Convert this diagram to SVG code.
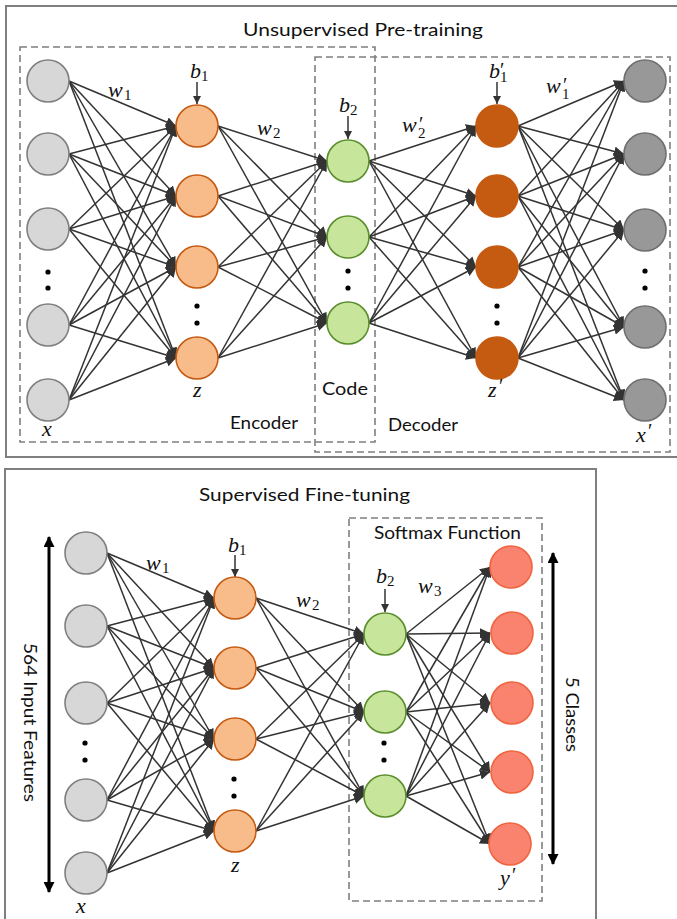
<svg xmlns="http://www.w3.org/2000/svg" width="677" height="919" viewBox="0 0 677 919">
<style>
.panel{fill:none;stroke:#7f7f7f;stroke-width:2}
.dash{fill:none;stroke:#7f7f7f;stroke-width:1.6;stroke-dasharray:7,4}
.c line{stroke:#333;stroke-width:1.5;marker-end:url(#ah)}
.bias{stroke:#333;stroke-width:1.5;marker-end:url(#ahs)}
.lab{font-family:Lato,"Liberation Sans",sans-serif;font-size:18px;fill:#111}
.m{font-family:"Liberation Serif","DejaVu Serif",serif;font-style:italic;font-size:22px;fill:#111}
.s{font-style:normal;font-size:15px}
.p{font-style:normal;font-size:20px}
.gray{fill:#d6d7d6;stroke:#7f7f7f;stroke-width:1.6}
.org{fill:#f8bc8b;stroke:#c55a11;stroke-width:1.6}
.grn{fill:#c7e59b;stroke:#5a8e2c;stroke-width:1.6}
.dorg{fill:#c55a11;stroke:#c55a11;stroke-width:1.6}
.dgray{fill:#989898;stroke:#6f6f6f;stroke-width:1.6}
.red{fill:#fa8370;stroke:#f0643f;stroke-width:1.6}
.dot{fill:#000}
.big{stroke:#000;stroke-width:3;marker-end:url(#ahb)}
</style>
<defs>
<marker id="ah" markerUnits="userSpaceOnUse" markerWidth="10" markerHeight="10" viewBox="0 0 10 10" refX="10" refY="5" orient="auto"><path d="M0,0 L10,5 L0,10 Z" fill="#333"/></marker>
<marker id="ahs" markerUnits="userSpaceOnUse" markerWidth="8" markerHeight="8" viewBox="0 0 8 8" refX="8" refY="4" orient="auto"><path d="M0,0 L8,4 L0,8 Z" fill="#333"/></marker>
<marker id="ahb" markerUnits="userSpaceOnUse" markerWidth="11" markerHeight="11" viewBox="0 0 11 11" refX="10" refY="5.5" orient="auto"><path d="M0,0 L11,5.5 L0,11 Z" fill="#000"/></marker>
</defs>
<rect width="677" height="919" fill="#fff"/>

<g id="panel-top">
<rect class="panel" x="6" y="6" width="680" height="451"/>
<text class="lab" x="243" y="36" textLength="240" lengthAdjust="spacingAndGlyphs" font-size="19.5">Unsupervised Pre-training</text>
<rect class="dash" x="20" y="47" width="355" height="395"/>
<rect class="dash" x="315" y="57" width="355" height="395"/>
<text class="lab" x="230" y="429" textLength="68" lengthAdjust="spacingAndGlyphs">Encoder</text>
<text class="lab" x="322" y="395" textLength="46" lengthAdjust="spacingAndGlyphs">Code</text>
<text class="lab" x="388" y="431" textLength="70" lengthAdjust="spacingAndGlyphs">Decoder</text>
</g>

<g id="panel-bottom">
<rect class="panel" x="5" y="469" width="591" height="460"/>
<text class="lab" x="199" y="501" textLength="211" lengthAdjust="spacingAndGlyphs" font-size="19.5">Supervised Fine-tuning</text>
<rect class="dash" x="349" y="518" width="193" height="383"/>
<text class="lab" x="374" y="539" textLength="147" lengthAdjust="spacingAndGlyphs" font-size="17">Softmax Function</text>
<text class="lab" transform="translate(24,722.5) rotate(90)" text-anchor="middle" textLength="159" lengthAdjust="spacingAndGlyphs">564 Input Features</text>
<text class="lab" transform="translate(566,714.5) rotate(90)" text-anchor="middle" textLength="75" lengthAdjust="spacingAndGlyphs">5 Classes</text>
<line class="big" x1="49" y1="715" x2="49" y2="537"/>
<line class="big" x1="49" y1="715" x2="49" y2="892"/>
<line class="big" x1="553" y1="710" x2="553" y2="553"/>
<line class="big" x1="553" y1="710" x2="553" y2="864"/>
</g>

<g id="connectors" class="c">
<line x1="69" y1="81" x2="176" y2="126"/><line x1="69" y1="81" x2="176" y2="196"/><line x1="69" y1="81" x2="176" y2="267"/><line x1="69" y1="81" x2="176" y2="358"/>
<line x1="69" y1="154" x2="176" y2="126"/><line x1="69" y1="154" x2="176" y2="196"/><line x1="69" y1="154" x2="176" y2="267"/><line x1="69" y1="154" x2="176" y2="358"/>
<line x1="69" y1="229" x2="176" y2="126"/><line x1="69" y1="229" x2="176" y2="196"/><line x1="69" y1="229" x2="176" y2="267"/><line x1="69" y1="229" x2="176" y2="358"/>
<line x1="69" y1="325" x2="176" y2="126"/><line x1="69" y1="325" x2="176" y2="196"/><line x1="69" y1="325" x2="176" y2="267"/><line x1="69" y1="325" x2="176" y2="358"/>
<line x1="69" y1="400" x2="176" y2="126"/><line x1="69" y1="400" x2="176" y2="196"/><line x1="69" y1="400" x2="176" y2="267"/><line x1="69" y1="400" x2="176" y2="358"/>
<line x1="218" y1="126" x2="327" y2="161"/><line x1="218" y1="126" x2="327" y2="237"/><line x1="218" y1="126" x2="327" y2="323"/>
<line x1="218" y1="196" x2="327" y2="161"/><line x1="218" y1="196" x2="327" y2="237"/><line x1="218" y1="196" x2="327" y2="323"/>
<line x1="218" y1="267" x2="327" y2="161"/><line x1="218" y1="267" x2="327" y2="237"/><line x1="218" y1="267" x2="327" y2="323"/>
<line x1="218" y1="358" x2="327" y2="161"/><line x1="218" y1="358" x2="327" y2="237"/><line x1="218" y1="358" x2="327" y2="323"/>
<line x1="369" y1="161" x2="476" y2="126"/><line x1="369" y1="161" x2="476" y2="196"/><line x1="369" y1="161" x2="476" y2="267"/><line x1="369" y1="161" x2="476" y2="358"/>
<line x1="369" y1="237" x2="476" y2="126"/><line x1="369" y1="237" x2="476" y2="196"/><line x1="369" y1="237" x2="476" y2="267"/><line x1="369" y1="237" x2="476" y2="358"/>
<line x1="369" y1="323" x2="476" y2="126"/><line x1="369" y1="323" x2="476" y2="196"/><line x1="369" y1="323" x2="476" y2="267"/><line x1="369" y1="323" x2="476" y2="358"/>
<line x1="518" y1="126" x2="624" y2="81"/><line x1="518" y1="126" x2="624" y2="154"/><line x1="518" y1="126" x2="624" y2="230"/><line x1="518" y1="126" x2="624" y2="327"/><line x1="518" y1="126" x2="624" y2="400"/>
<line x1="518" y1="196" x2="624" y2="81"/><line x1="518" y1="196" x2="624" y2="154"/><line x1="518" y1="196" x2="624" y2="230"/><line x1="518" y1="196" x2="624" y2="327"/><line x1="518" y1="196" x2="624" y2="400"/>
<line x1="518" y1="267" x2="624" y2="81"/><line x1="518" y1="267" x2="624" y2="154"/><line x1="518" y1="267" x2="624" y2="230"/><line x1="518" y1="267" x2="624" y2="327"/><line x1="518" y1="267" x2="624" y2="400"/>
<line x1="518" y1="358" x2="624" y2="81"/><line x1="518" y1="358" x2="624" y2="154"/><line x1="518" y1="358" x2="624" y2="230"/><line x1="518" y1="358" x2="624" y2="327"/><line x1="518" y1="358" x2="624" y2="400"/>
<line x1="107" y1="553" x2="214" y2="598"/><line x1="107" y1="553" x2="214" y2="668"/><line x1="107" y1="553" x2="214" y2="739"/><line x1="107" y1="553" x2="214" y2="831"/>
<line x1="107" y1="626" x2="214" y2="598"/><line x1="107" y1="626" x2="214" y2="668"/><line x1="107" y1="626" x2="214" y2="739"/><line x1="107" y1="626" x2="214" y2="831"/>
<line x1="107" y1="703" x2="214" y2="598"/><line x1="107" y1="703" x2="214" y2="668"/><line x1="107" y1="703" x2="214" y2="739"/><line x1="107" y1="703" x2="214" y2="831"/>
<line x1="107" y1="800" x2="214" y2="598"/><line x1="107" y1="800" x2="214" y2="668"/><line x1="107" y1="800" x2="214" y2="739"/><line x1="107" y1="800" x2="214" y2="831"/>
<line x1="107" y1="873" x2="214" y2="598"/><line x1="107" y1="873" x2="214" y2="668"/><line x1="107" y1="873" x2="214" y2="739"/><line x1="107" y1="873" x2="214" y2="831"/>
<line x1="256" y1="598" x2="364" y2="634"/><line x1="256" y1="598" x2="364" y2="712"/><line x1="256" y1="598" x2="364" y2="796"/>
<line x1="256" y1="668" x2="364" y2="634"/><line x1="256" y1="668" x2="364" y2="712"/><line x1="256" y1="668" x2="364" y2="796"/>
<line x1="256" y1="739" x2="364" y2="634"/><line x1="256" y1="739" x2="364" y2="712"/><line x1="256" y1="739" x2="364" y2="796"/>
<line x1="256" y1="831" x2="364" y2="634"/><line x1="256" y1="831" x2="364" y2="712"/><line x1="256" y1="831" x2="364" y2="796"/>
<line x1="406" y1="634" x2="490" y2="567"/><line x1="406" y1="634" x2="490" y2="633"/><line x1="406" y1="634" x2="490" y2="703"/><line x1="406" y1="634" x2="490" y2="772"/><line x1="406" y1="634" x2="490" y2="844"/>
<line x1="406" y1="712" x2="490" y2="567"/><line x1="406" y1="712" x2="490" y2="633"/><line x1="406" y1="712" x2="490" y2="703"/><line x1="406" y1="712" x2="490" y2="772"/><line x1="406" y1="712" x2="490" y2="844"/>
<line x1="406" y1="796" x2="490" y2="567"/><line x1="406" y1="796" x2="490" y2="633"/><line x1="406" y1="796" x2="490" y2="703"/><line x1="406" y1="796" x2="490" y2="772"/><line x1="406" y1="796" x2="490" y2="844"/>
</g>

<g id="bias-arrows">
<line class="bias" x1="197" y1="82" x2="197" y2="104"/>
<line class="bias" x1="348" y1="116" x2="348" y2="139"/>
<line class="bias" x1="497" y1="82" x2="497" y2="104"/>
<line class="bias" x1="235" y1="555" x2="235" y2="577"/>
<line class="bias" x1="385" y1="589" x2="385" y2="612"/>
</g>

<g id="top-input">
<circle class="gray" cx="48" cy="81" r="21"/><circle class="gray" cx="48" cy="154" r="21"/><circle class="gray" cx="48" cy="229" r="21"/><circle class="gray" cx="48" cy="325" r="21"/><circle class="gray" cx="48" cy="400" r="21"/>
<circle class="dot" cx="48" cy="272" r="2.6"/><circle class="dot" cx="48" cy="288" r="2.6"/>
<text class="m" x="42" y="436">x</text>
</g>
<g id="top-hidden">
<circle class="org" cx="197" cy="126" r="21"/><circle class="org" cx="197" cy="196" r="21"/><circle class="org" cx="197" cy="267" r="21"/><circle class="org" cx="197" cy="358" r="21"/>
<circle class="dot" cx="197" cy="306" r="2.6"/><circle class="dot" cx="197" cy="323" r="2.6"/>
<text class="m" x="193" y="397">z</text>
<text class="m" x="190" y="78">b<tspan class="s" x="201" y="81">1</tspan></text>
</g>
<g id="top-code">
<circle class="grn" cx="348" cy="161" r="21"/><circle class="grn" cx="348" cy="237" r="21"/><circle class="grn" cx="348" cy="323" r="21"/>
<circle class="dot" cx="348" cy="271" r="2.6"/><circle class="dot" cx="348" cy="288" r="2.6"/>
<text class="m" x="339" y="112">b<tspan class="s" x="350" y="115">2</tspan></text>
</g>
<g id="top-dec-hidden">
<circle class="dorg" cx="497" cy="126" r="21"/><circle class="dorg" cx="497" cy="196" r="21"/><circle class="dorg" cx="497" cy="267" r="21"/><circle class="dorg" cx="497" cy="358" r="21"/>
<circle class="dot" cx="497" cy="306" r="2.6"/><circle class="dot" cx="497" cy="323" r="2.6"/>
<text class="m" x="488" y="397">z<tspan class="p" x="499" y="393">′</tspan></text>
<text class="m" x="489" y="78">b<tspan class="p" x="500" y="77">′</tspan><tspan class="s" x="500" y="82">1</tspan></text>
</g>
<g id="top-output">
<circle class="dgray" cx="645" cy="81" r="21"/><circle class="dgray" cx="645" cy="154" r="21"/><circle class="dgray" cx="645" cy="230" r="21"/><circle class="dgray" cx="645" cy="327" r="21"/><circle class="dgray" cx="645" cy="400" r="21"/>
<circle class="dot" cx="645" cy="271" r="2.6"/><circle class="dot" cx="645" cy="288" r="2.6"/>
<text class="m" x="636" y="442">x<tspan class="p" x="648" y="438">′</tspan></text>
</g>
<g id="top-weights">
<text class="m" x="108" y="97">w<tspan class="s" x="124" y="100">1</tspan></text>
<text class="m" x="257" y="135">w<tspan class="s" x="273" y="138">2</tspan></text>
<text class="m" x="402" y="132">w<tspan class="p" x="419" y="131">′</tspan><tspan class="s" x="418" y="138">2</tspan></text>
<text class="m" x="546" y="93">w<tspan class="p" x="563" y="92">′</tspan><tspan class="s" x="562" y="99">1</tspan></text>
</g>

<g id="bottom-input">
<circle class="gray" cx="86" cy="553" r="21"/><circle class="gray" cx="86" cy="626" r="21"/><circle class="gray" cx="86" cy="703" r="21"/><circle class="gray" cx="86" cy="800" r="21"/><circle class="gray" cx="86" cy="873" r="21"/>
<circle class="dot" cx="85" cy="743" r="2.6"/><circle class="dot" cx="85" cy="760" r="2.6"/>
<text class="m" x="76" y="913">x</text>
</g>
<g id="bottom-hidden">
<circle class="org" cx="235" cy="598" r="21"/><circle class="org" cx="235" cy="668" r="21"/><circle class="org" cx="235" cy="739" r="21"/><circle class="org" cx="235" cy="831" r="21"/>
<circle class="dot" cx="234" cy="779" r="2.6"/><circle class="dot" cx="234" cy="796" r="2.6"/>
<text class="m" x="231" y="872">z</text>
<text class="m" x="228" y="552">b<tspan class="s" x="239" y="555">1</tspan></text>
</g>
<g id="bottom-code">
<circle class="grn" cx="385" cy="634" r="21"/><circle class="grn" cx="385" cy="712" r="21"/><circle class="grn" cx="385" cy="796" r="21"/>
<circle class="dot" cx="384" cy="743" r="2.6"/><circle class="dot" cx="384" cy="760" r="2.6"/>
<text class="m" x="376" y="583">b<tspan class="s" x="387" y="586">2</tspan></text>
</g>
<g id="bottom-output">
<circle class="red" cx="511" cy="567" r="21"/><circle class="red" cx="512" cy="633" r="21"/><circle class="red" cx="512" cy="703" r="21"/><circle class="red" cx="512" cy="772" r="21"/><circle class="red" cx="510" cy="844" r="21"/>
<text class="m" x="500" y="885">y<tspan class="p" x="512" y="882">′</tspan></text>
</g>
<g id="bottom-weights">
<text class="m" x="146" y="570">w<tspan class="s" x="162" y="573">1</tspan></text>
<text class="m" x="296" y="607">w<tspan class="s" x="312" y="610">2</tspan></text>
<text class="m" x="418" y="593">w<tspan class="s" x="434" y="596">3</tspan></text>
</g>
</svg>
